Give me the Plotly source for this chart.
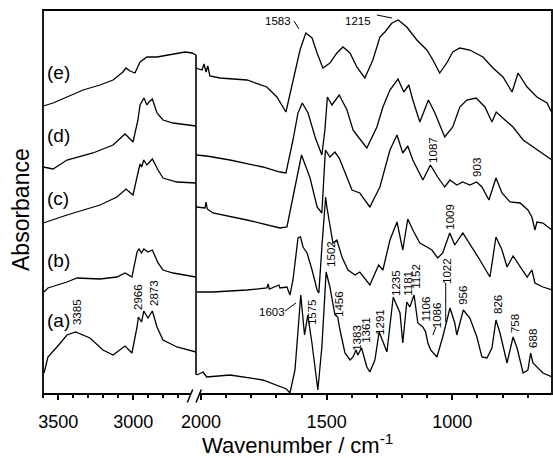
import plotly.graph_objects as go

# ---------------- spectra, 3600-2580 cm-1 window ----------------
E_HI_WN = [3600, 3535, 3442, 3335, 3222, 3135, 3069, 3049, 3022, 2989, 2955, 2909, 2842, 2775, 2689, 2655, 2609, 2582]
E_HI_A = [2.88, 2.91, 2.97, 3.04, 3.09, 3.14, 3.22, 3.26, 3.23, 3.21, 3.32, 3.37, 3.37, 3.39, 3.41, 3.42, 3.41, 3.39]

D_HI_WN = [3600, 3535, 3442, 3269, 3135, 3055, 3002, 2969, 2955, 2929, 2909, 2895, 2873, 2842, 2802, 2735, 2582]
D_HI_A = [2.27, 2.25, 2.34, 2.41, 2.49, 2.60, 2.52, 2.74, 2.89, 2.96, 2.89, 2.92, 2.95, 2.81, 2.74, 2.71, 2.68]

C_HI_WN = [3600, 3442, 3222, 3109, 3049, 3002, 2969, 2955, 2945, 2930, 2909, 2873, 2835, 2802, 2709, 2582]
C_HI_A = [1.71, 1.79, 1.89, 1.97, 2.05, 1.99, 2.21, 2.30, 2.27, 2.34, 2.29, 2.35, 2.24, 2.16, 2.12, 2.11]

B_HI_WN = [3595, 3569, 3442, 3375, 3222, 3109, 3055, 3009, 2975, 2962, 2945, 2930, 2902, 2873, 2835, 2802, 2735, 2582]
B_HI_A = [1.02, 1.06, 1.12, 1.16, 1.15, 1.17, 1.21, 1.17, 1.42, 1.45, 1.41, 1.45, 1.42, 1.44, 1.31, 1.24, 1.21, 1.17]

A_HI_WN = [3595, 3569, 3509, 3442, 3385, 3289, 3202, 3135, 3055, 3009, 2975, 2966, 2945, 2930, 2902, 2873, 2842, 2802, 2709, 2582]
A_HI_A = [0.21, 0.37, 0.47, 0.59, 0.62, 0.56, 0.44, 0.39, 0.48, 0.41, 0.67, 0.77, 0.72, 0.83, 0.76, 0.83, 0.67, 0.54, 0.47, 0.42]

# ---------------- spectra, 2020-600 cm-1 window ----------------
E_LO_WN = [2020, 1996, 1988, 1980, 1973, 1965, 1925, 1817, 1738, 1698, 1662, 1634, 1606, 1583, 1558, 1538,
           1515, 1487, 1459, 1435, 1407, 1380, 1348, 1316, 1288, 1268, 1240, 1215, 1181, 1141, 1101, 1077,
           1050, 1022, 998, 970, 930, 878, 838, 798, 762, 738, 702, 663, 623, 603]
E_LO_A = [3.26, 3.24, 3.30, 3.22, 3.28, 3.18, 3.16, 3.14, 3.07, 2.97, 2.82, 3.14, 3.44, 3.61, 3.56, 3.41,
          3.26, 3.31, 3.41, 3.47, 3.41, 3.27, 3.16, 3.34, 3.57, 3.62, 3.71, 3.74, 3.67, 3.54, 3.44, 3.34,
          3.21, 3.31, 3.42, 3.46, 3.44, 3.37, 3.26, 3.17, 3.02, 3.21, 3.07, 2.97, 2.91, 2.81]

D_LO_WN = [2020, 1977, 1885, 1754, 1686, 1662, 1634, 1614, 1597, 1574, 1546, 1519, 1507, 1497, 1479, 1450,
           1419, 1395, 1380, 1340, 1300, 1276, 1248, 1216, 1193, 1173, 1157, 1129, 1095, 1069, 1030, 998,
           970, 942, 905, 870, 842, 825, 790, 758, 718, 663, 603]
D_LO_A = [2.39, 2.38, 2.34, 2.27, 2.22, 2.21, 2.54, 2.81, 2.91, 2.81, 2.57, 2.39, 2.64, 2.97, 2.89, 2.99,
          2.84, 2.64, 2.59, 2.46, 2.67, 2.87, 3.04, 3.15, 3.02, 3.09, 2.94, 2.72, 2.94, 2.81, 2.57, 2.67,
          2.87, 2.94, 2.96, 2.87, 2.72, 2.82, 2.74, 2.67, 2.54, 2.44, 2.34]

C_LO_WN = [2020, 1984, 1980, 1975, 1953, 1817, 1686, 1658, 1634, 1600, 1566, 1538, 1519, 1505, 1487, 1467,
           1450, 1419, 1399, 1368, 1328, 1288, 1248, 1220, 1197, 1177, 1157, 1117, 1087, 1058, 1030, 1009,
           982, 958, 930, 903, 882, 854, 826, 802, 770, 730, 699, 683, 671, 663, 639, 603]
C_LO_A = [1.87, 1.86, 1.92, 1.85, 1.81, 1.74, 1.66, 1.67, 1.97, 2.39, 2.16, 1.87, 1.81, 2.44, 2.37, 2.42,
          2.36, 2.17, 2.04, 2.01, 1.87, 2.07, 2.44, 2.59, 2.41, 2.48, 2.34, 2.14, 2.29, 2.17, 2.07, 2.14,
          2.09, 2.12, 2.09, 2.12, 2.07, 1.94, 2.16, 2.01, 1.92, 1.91, 1.84, 1.77, 1.64, 1.72, 1.71, 1.64]

B_LO_WN = [2016, 1953, 1817, 1738, 1733, 1728, 1690, 1686, 1658, 1646, 1634, 1614, 1604, 1594, 1578, 1558,
           1538, 1531, 1519, 1504, 1499, 1487, 1475, 1459, 1439, 1415, 1387, 1368, 1340, 1328, 1293, 1276,
           1248, 1220, 1197, 1177, 1157, 1129, 1101, 1081, 1058, 1038, 1010, 990, 958, 922, 890, 850,
           826, 802, 782, 758, 730, 702, 683, 671, 639, 603]
B_LO_A = [1.02, 1.02, 1.04, 1.06, 1.10, 1.05, 1.09, 1.06, 1.07, 0.99, 1.14, 1.56, 1.57, 1.47, 1.41, 1.24,
          1.04, 1.01, 1.47, 1.97, 1.87, 1.67, 1.51, 1.54, 1.37, 1.24, 1.19, 1.22, 1.12, 1.09, 1.29, 1.24,
          1.54, 1.72, 1.44, 1.75, 1.64, 1.51, 1.47, 1.44, 1.36, 1.41, 1.61, 1.49, 1.61, 1.47, 1.34, 1.17,
          1.57, 1.44, 1.27, 1.38, 1.27, 1.17, 1.24, 1.11, 1.07, 1.04]

A_LO_WN = [2016, 1992, 1977, 1885, 1754, 1660, 1646, 1626, 1603, 1588, 1575, 1558, 1535, 1519, 1502, 1487,
           1467, 1456, 1447, 1427, 1407, 1395, 1383, 1376, 1361, 1340, 1328, 1308, 1291, 1268, 1260, 1235,
           1208, 1197, 1181, 1169, 1152, 1137, 1117, 1106, 1097, 1086, 1061, 1038, 1022, 1009, 990, 982,
           956, 930, 902, 882, 862, 842, 826, 810, 782, 758, 742, 718, 699, 688, 679, 663, 639, 603]
A_LO_A = [0.19, 0.22, 0.17, 0.19, 0.14, 0.05, 0.01, 0.24, 0.99, 0.59, 0.79, 0.50, 0.04, 0.47, 1.22, 1.07,
          0.79, 0.77, 0.64, 0.41, 0.34, 0.37, 0.44, 0.39, 0.46, 0.27, 0.22, 0.34, 0.62, 0.47, 0.42, 0.97,
          0.81, 0.51, 0.92, 0.87, 0.99, 0.71, 0.67, 0.62, 0.51, 0.44, 0.37, 0.57, 0.74, 0.86, 0.71, 0.59,
          0.84, 0.76, 0.57, 0.37, 0.36, 0.46, 0.74, 0.61, 0.31, 0.57, 0.46, 0.21, 0.24, 0.41, 0.31, 0.27,
          0.21, 0.17]

# sample tags and the absorbance level each tag sits at
SAMPLE_TAGS = ["(a)", "(b)", "(c)", "(d)", "(e)"]
SAMPLE_TAG_Y = [0.74, 1.34, 1.96, 2.59, 3.22]

# band assignments (vertical text)
HI_BAND_TEXT = ["3385", "2966", "2873"]
HI_BAND_WN = [3375, 2969, 2862]
HI_BAND_Y = [0.82, 0.97, 1.01]

LO_BAND_TEXT = ["1575", "1502", "1456", "1383", "1361", "1291", "1235", "1181", "1152", "1106",
                "1086", "1022", "956", "826", "758", "688", "1009", "1087", "903"]
LO_BAND_WN = [1558, 1483, 1451, 1380, 1344, 1288, 1224, 1177, 1145, 1103,
              1060, 1021, 958, 818, 750, 679, 1010, 1077, 902]
LO_BAND_Y = [0.82, 1.40, 0.90, 0.56, 0.64, 0.72, 1.11, 1.11, 1.18, 0.85,
             0.79, 1.23, 0.99, 0.90, 0.70, 0.56, 1.77, 2.44, 2.27]

# band assignments with horizontal text and a short leader
FLAT_BAND_TEXT = ["1603", "1583", "1215"]
FLAT_BAND_WN = [1718, 1694, 1375]
FLAT_BAND_Y = [0.82, 3.73, 3.73]
LEADER_WN = [(1666, 1622), (1630, 1610), (1300, 1240), (1077, 1065), (1026, 1026)]
LEADER_Y = [(0.83, 0.91), (3.73, 3.65), (3.79, 3.76), (0.59, 0.67), (1.11, 0.72)]

FONT = "Liberation Sans, Arial, Helvetica, sans-serif"
INK = "black"

# plot-area geometry (pixels) used for the broken axis
L_PX, R_PX, T_PX, B_PX = 43, 552, 10, 394
BREAK_PX = 196
W_PX = R_PX - L_PX
H_PX = B_PX - T_PX
split = (BREAK_PX - L_PX) / W_PX


def px_x(px):
    return (px - L_PX) / W_PX


def px_y(py):
    return (B_PX - py) / H_PX


fig = go.Figure()

hi_sets = [(A_HI_WN, A_HI_A), (B_HI_WN, B_HI_A), (C_HI_WN, C_HI_A), (D_HI_WN, D_HI_A), (E_HI_WN, E_HI_A)]
lo_sets = [(A_LO_WN, A_LO_A), (B_LO_WN, B_LO_A), (C_LO_WN, C_LO_A), (D_LO_WN, D_LO_A), (E_LO_WN, E_LO_A)]

for wn, a in hi_sets:
    fig.add_trace(go.Scatter(x=wn, y=a, mode="lines", xaxis="x", yaxis="y",
                             line=dict(color=INK, width=1.3), hoverinfo="skip"))
for wn, a in lo_sets:
    fig.add_trace(go.Scatter(x=wn, y=a, mode="lines", xaxis="x2", yaxis="y",
                             line=dict(color=INK, width=1.3), hoverinfo="skip"))

tick_common = dict(
    tickmode="linear", tick0=0, dtick=500, ticks="outside", ticklen=5, tickwidth=1.5,
    tickcolor=INK, showgrid=False, zeroline=False, showline=False,
    ticklabelstandoff=6,
    tickfont=dict(family=FONT, size=18, color=INK),
    minor=dict(tick0=0, dtick=100, ticks="outside", ticklen=3, tickwidth=1.5,
               tickcolor=INK, showgrid=False),
    anchor="y",
)

fig.update_layout(
    width=553, height=458,
    margin=dict(l=L_PX, r=553 - R_PX, t=T_PX, b=458 - B_PX),
    paper_bgcolor="white", plot_bgcolor="white",
    showlegend=False,
    xaxis=dict(domain=[0, split], range=[3602, 2582], **tick_common),
    xaxis2=dict(domain=[split, 1], range=[2020, 603], **tick_common),
    yaxis=dict(range=[0, 3.84], showticklabels=False, ticks="", showgrid=False,
               zeroline=False, showline=False),
)

shapes = []
# frame
shapes.append(dict(type="rect", xref="paper", yref="paper", x0=0, x1=1, y0=0, y1=1,
                   line=dict(color=INK, width=1.8), layer="above"))
# connector at the axis break, spanning the spectra ends
y_low = min(s[1][0] for s in lo_sets)
y_high = max(s[1][-1] for s in hi_sets)
shapes.append(dict(type="line", xref="paper", yref="y", x0=split, x1=split, y0=y_low, y1=y_high,
                   line=dict(color=INK, width=1.6)))
# axis-break marks
shapes.append(dict(type="rect", xref="paper", yref="paper", x0=px_x(191), x1=px_x(200),
                   y0=px_y(399), y1=px_y(391), fillcolor="white", line=dict(width=0), layer="above"))
for xa, xb in [(187.3, 192.7), (196.0, 201.4)]:
    shapes.append(dict(type="line", xref="paper", yref="paper", x0=px_x(xa), x1=px_x(xb),
                       y0=px_y(402.5), y1=px_y(389.5), line=dict(color=INK, width=1.5), layer="above"))
# leaders for band labels
for (w0, w1), (y0, y1) in zip(LEADER_WN, LEADER_Y):
    shapes.append(dict(type="line", xref="x2", yref="y", x0=w0, x1=w1, y0=y0, y1=y1,
                       line=dict(color=INK, width=1)))
fig.update_layout(shapes=shapes)

ann = []
for t, y in zip(SAMPLE_TAGS, SAMPLE_TAG_Y):
    ann.append(dict(x=3500, y=y, xref="x", yref="y", text=t, showarrow=False,
                    xanchor="center", yanchor="middle", font=dict(family=FONT, size=19, color=INK)))
for t, w, y in zip(HI_BAND_TEXT, HI_BAND_WN, HI_BAND_Y):
    ann.append(dict(x=w, y=y, xref="x", yref="y", text=t, showarrow=False, textangle=-90,
                    xanchor="center", yanchor="middle", font=dict(family=FONT, size=11.5, color=INK)))
for t, w, y in zip(LO_BAND_TEXT, LO_BAND_WN, LO_BAND_Y):
    ann.append(dict(x=w, y=y, xref="x2", yref="y", text=t, showarrow=False, textangle=-90,
                    xanchor="center", yanchor="middle", font=dict(family=FONT, size=11.5, color=INK)))
for t, w, y in zip(FLAT_BAND_TEXT, FLAT_BAND_WN, FLAT_BAND_Y):
    ann.append(dict(x=w, y=y, xref="x2", yref="y", text=t, showarrow=False,
                    xanchor="center", yanchor="middle", font=dict(family=FONT, size=11.5, color=INK)))
# axis titles
ann.append(dict(x=0.5, y=px_y(444), xref="paper", yref="paper", text="Wavenumber / cm<sup>-1</sup>",
                showarrow=False, xanchor="center", yanchor="middle",
                font=dict(family=FONT, size=22, color=INK)))
ann.append(dict(x=px_x(21), y=px_y(210), xref="paper", yref="paper", text="Absorbance",
                showarrow=False, textangle=-90, xanchor="center", yanchor="middle",
                font=dict(family=FONT, size=23, color=INK)))
fig.update_layout(annotations=ann)

fig.write_html("out.html")
